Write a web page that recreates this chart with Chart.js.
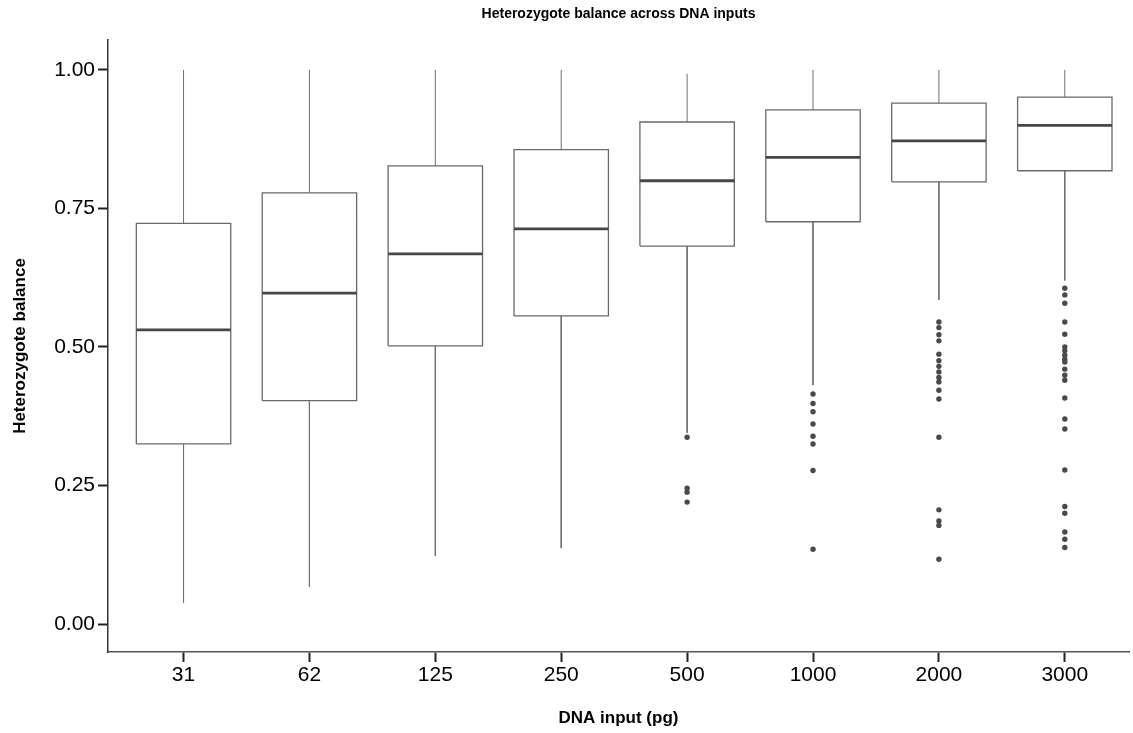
<!DOCTYPE html>
<html>
<head>
<meta charset="utf-8">
<script src="https://cdn.jsdelivr.net/npm/chart.js@4"></script>
<style>
  html, body { margin: 0; padding: 0; background: #ffffff; }
  #wrap { width: 1133px; height: 733px; position: relative; }
</style>
</head>
<body>
<div id="wrap"><canvas id="c"></canvas></div>
<script>
// ---- data ----
const categories = ['31', '62', '125', '250', '500', '1000', '2000', '3000'];
const whiskerLow  = [0.038, 0.067, 0.123, 0.137, 0.345, 0.431, 0.585, 0.620];
const q1          = [0.325, 0.403, 0.502, 0.556, 0.682, 0.726, 0.798, 0.818];
const median      = [0.531, 0.597, 0.668, 0.713, 0.800, 0.842, 0.872, 0.900];
const q3          = [0.723, 0.778, 0.827, 0.856, 0.906, 0.928, 0.940, 0.951];
const whiskerHigh = [1.000, 1.000, 1.000, 1.000, 0.993, 1.000, 1.000, 1.000];
const outliers500  = [0.337, 0.245, 0.238, 0.220];
const outliers1000 = [0.415, 0.398, 0.383, 0.361, 0.339, 0.325, 0.277, 0.135];
const outliers2000 = [0.545, 0.535, 0.522, 0.511, 0.487, 0.475, 0.465, 0.455, 0.445, 0.437, 0.422, 0.406, 0.337, 0.206, 0.186, 0.178, 0.117];
const outliers3000 = [0.606, 0.594, 0.579, 0.545, 0.523, 0.500, 0.493, 0.485, 0.478, 0.473, 0.460, 0.449, 0.440, 0.408, 0.370, 0.352, 0.278, 0.212, 0.200, 0.166, 0.153, 0.138];
const outlierGroups = { '500': outliers500, '1000': outliers1000, '2000': outliers2000, '3000': outliers3000 };
const yTickValues = [0, 0.25, 0.5, 0.75, 1.0];

// ---- build datasets from the arrays ----
const HALF = 0.375; // half box width in category units
const boxPts = [], whiskerPts = [], medianPts = [], outlierPts = [];
categories.forEach((c, i) => {
  const x = i + 1;
  boxPts.push({x: x - HALF, y: q1[i]}, {x: x + HALF, y: q1[i]}, {x: x + HALF, y: q3[i]},
              {x: x - HALF, y: q3[i]}, {x: x - HALF, y: q1[i]}, {x: x, y: null});
  whiskerPts.push({x: x, y: q3[i]}, {x: x, y: whiskerHigh[i]}, {x: x, y: null},
                  {x: x, y: q1[i]}, {x: x, y: whiskerLow[i]}, {x: x, y: null});
  medianPts.push({x: x - HALF, y: median[i]}, {x: x + HALF, y: median[i]}, {x: x, y: null});
  (outlierGroups[c] || []).forEach(v => outlierPts.push({x: x, y: v}));
});

const FONT = "'Liberation Sans', Arial, Helvetica, sans-serif";

new Chart(document.getElementById('c'), {
  type: 'line',
  data: {
    datasets: [
      { label: 'whiskers', data: whiskerPts, borderColor: '#707070', borderWidth: 1,
        pointRadius: 0, spanGaps: false, fill: false, tension: 0, order: 4 },
      { label: 'boxes', data: boxPts, borderColor: '#6a6a6a', borderWidth: 1.3,
        pointRadius: 0, spanGaps: false, fill: false, tension: 0, order: 3,
        borderJoinStyle: 'miter' },
      { label: 'medians', data: medianPts, borderColor: '#474747', borderWidth: 2.8,
        pointRadius: 0, spanGaps: false, fill: false, tension: 0, order: 2 },
      { type: 'scatter', label: 'outliers', data: outlierPts, backgroundColor: '#4a4a4a',
        borderWidth: 0, pointRadius: 2.7, order: 1 }
    ]
  },
  options: {
    responsive: true,
    maintainAspectRatio: false,
    animation: false,
    layout: { padding: { left: 0, right: 0, top: 0, bottom: 0 } },
    plugins: {
      legend: { display: false },
      tooltip: { enabled: false },
      title: {
        display: true,
        fullSize: false,
        text: 'Heterozygote balance across DNA inputs',
        color: '#000',
        font: { family: FONT, size: 14, weight: 'bold' },
        padding: { top: 6, bottom: 17.2 }
      }
    },
    scales: {
      x: {
        type: 'linear',
        min: 0.4,
        max: 8.51,
        afterBuildTicks: s => { s.ticks = categories.map((c, i) => ({ value: i + 1 })); },
        afterFit: s => { s.height = 81; },
        ticks: {
          autoSkip: false,
          maxRotation: 0,
          padding: 1,
          color: '#000',
          font: { family: FONT, size: 21 },
          callback: v => categories[Math.round(v) - 1]
        },
        grid: { drawOnChartArea: false, drawTicks: true, tickLength: 10, tickWidth: 2, tickColor: '#222' },
        border: { display: true, color: '#555', width: 1.5 },
        title: {
          display: true,
          text: 'DNA input (pg)',
          color: '#000',
          font: { family: FONT, size: 17, weight: 'bold' },
          padding: { top: 0, bottom: 4 }
        }
      },
      y: {
        type: 'linear',
        min: -0.0505,
        max: 1.054,
        afterBuildTicks: s => { s.ticks = yTickValues.map(v => ({ value: v })); },
        afterFit: s => { s.width = 108; },
        ticks: {
          padding: 3,
          color: '#000',
          font: { family: FONT, size: 21 },
          callback: v => Number(v).toFixed(2)
        },
        grid: { drawOnChartArea: false, drawTicks: true, tickLength: 10, tickWidth: 2, tickColor: '#222' },
        border: { display: true, color: '#333', width: 1.5 },
        title: {
          display: true,
          text: 'Heterozygote balance',
          color: '#000',
          font: { family: FONT, size: 17, weight: 'bold' },
          padding: { top: 10, bottom: 0 }
        }
      }
    }
  }
});
</script>
</body>
</html>
